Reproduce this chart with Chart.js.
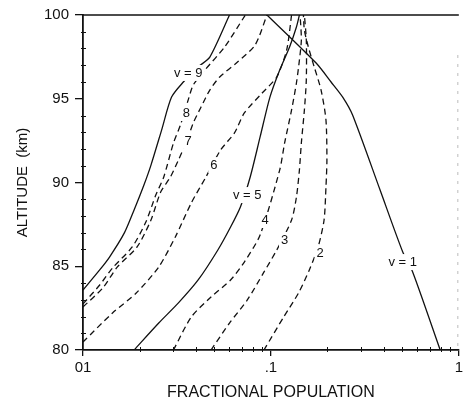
<!DOCTYPE html>
<html>
<head>
<meta charset="utf-8">
<script src="https://cdn.jsdelivr.net/npm/chart.js@4.4.1/dist/chart.umd.min.js"></script>
<style>
  html, body { margin: 0; padding: 0; background: #fff; }
</style>
</head>
<body>
<canvas id="chart" width="466" height="405"></canvas>
<script>
// Fractional population of vibrational levels v=1..9 vs altitude

// altitude (km) / fractional population, one pair per level
const alt1 = [80, 84.66, 85.85, 89.55, 94.03, 95.1, 96.0, 97.13, 100];
const pop1 = [0.796, 0.568, 0.503, 0.381, 0.272, 0.241, 0.209, 0.174, 0.0953];

const alt2 = [80, 81.97, 83.4, 84.78, 86.15, 87.76, 89.73, 91.34, 93.73, 95.52, 96.9, 98.09, 99.1, 100];
const pop2 = [0.0918, 0.1169, 0.1402, 0.1601, 0.1783, 0.1918, 0.1963, 0.1986, 0.1963, 0.1849, 0.170, 0.1582, 0.1507, 0.1489];

const alt3 = [80, 81.61, 82.99, 84.66, 85.97, 87.76, 89.13, 90.75, 92.36, 94.33, 96.12, 98.51, 100];
const pop3 = [0.048, 0.0602, 0.0749, 0.0919, 0.1074, 0.1288, 0.1367, 0.1418, 0.1452, 0.1507, 0.1543, 0.1543, 0.1507];

const alt4 = [80, 81.97, 83.16, 84.18, 85.25, 86.87, 90.75, 92.36, 94.33, 95.94, 97.31, 98.51, 100];
const pop4 = [0.0303, 0.0377, 0.048, 0.061, 0.0722, 0.0876, 0.1114, 0.1183, 0.1288, 0.1367, 0.1418, 0.1452, 0.143];

const alt5 = [80, 81.61, 82.81, 84.18, 85.97, 87.34, 88.54, 90.33, 92.72, 95.1, 96.72, 98.09, 99.28, 100];
const pop5 = [0.0187, 0.0253, 0.0322, 0.041, 0.0522, 0.061, 0.0688, 0.0776, 0.0876, 0.0988, 0.1114, 0.1257, 0.1367, 0.1418];

const alt6 = [80.48, 82.21, 83.4, 84.96, 86.75, 88.78, 90.33, 91.94, 92.96, 94.15, 95.34, 96.3, 97.91, 100];
const pop6 = [0.01, 0.01436, 0.0192, 0.0253, 0.031, 0.0377, 0.0451, 0.054, 0.064, 0.0722, 0.0898, 0.1074, 0.1213, 0.1288];

const alt7 = [82.57, 83.7, 84.96, 86.15, 87.76, 89.43, 90.33, 91.34, 92.42, 93.55, 94.51, 95.52, 96.3, 97.19, 98.21, 100];
const pop7 = [0.01, 0.01274, 0.01524, 0.0194, 0.023, 0.0259, 0.0292, 0.0322, 0.0355, 0.0386, 0.0425, 0.0473, 0.0534, 0.0664, 0.0824, 0.0953];

const alt8 = [82.75, 83.88, 84.9, 86.15, 87.64, 89.25, 90.33, 92.36, 93.43, 94.93, 95.82, 96.72, 98.09, 100];
const pop8 = [0.01, 0.01227, 0.01436, 0.01827, 0.0216, 0.0244, 0.0269, 0.0303, 0.033, 0.0363, 0.0386, 0.0446, 0.0567, 0.0731];

const alt9 = [83.58, 84.78, 85.55, 86.99, 88.36, 89.85, 91.04, 93.13, 95.1, 96.0, 96.9, 97.49, 100];
const pop9 = [0.01, 0.01227, 0.01384, 0.0166, 0.0187, 0.0211, 0.023, 0.0262, 0.0296, 0.0342, 0.041, 0.0473, 0.0602];

const levelAlts = [alt1, alt2, alt3, alt4, alt5, alt6, alt7, alt8, alt9];
const levelPops = [pop1, pop2, pop3, pop4, pop5, pop6, pop7, pop8, pop9];
const dashedLevels = [false, true, true, true, false, true, true, true, false];

// curve labels
const labelText = ['v = 1', '2', '3', '4', 'v = 5', '6', '7', '8', 'v = 9'];
const labelPop = [0.503, 0.183, 0.1183, 0.0931, 0.0748, 0.0497, 0.0363, 0.0355, 0.0363];
const labelAlt = [85.25, 85.79, 86.57, 87.76, 89.25, 91.04, 92.48, 94.15, 96.54];

// axis ticks
const xTickValues = [0.01, 0.1, 1];
const xTickLabels = ['01', '.1', '1'];

const FONT = 'Liberation Sans, Arial, Helvetica, sans-serif';

const datasets = levelAlts.map(function(alts, i) {
    return {
        label: 'v=' + (i + 1),
        data: alts.map(function(a, j) { return { x: levelPops[i][j], y: a }; }),
        showLine: true,
        pointRadius: 0,
        borderColor: '#111',
        borderWidth: 1.3,
        borderDash: dashedLevels[i] ? [6, 4] : [],
        tension: 0.25
    };
});

// curve labels with a white patch behind, so the line is broken there
const curveLabels = {
    id: 'curveLabels',
    afterDatasetsDraw(chart) {
        const ctx = chart.ctx;
        const xs = chart.scales.x, ys = chart.scales.y;
        ctx.save();
        ctx.font = '13px ' + FONT;
        ctx.textAlign = 'center';
        ctx.textBaseline = 'middle';
        labelText.forEach(function(t, i) {
            const px = xs.getPixelForValue(labelPop[i]);
            const py = ys.getPixelForValue(labelAlt[i]);
            const w = ctx.measureText(t).width;
            ctx.fillStyle = '#fff';
            ctx.fillRect(px - w / 2 - 2, py - 8, w + 4, 16);
            ctx.fillStyle = '#111';
            ctx.fillText(t, px, py);
        });
        ctx.restore();
    }
};

// frame line on top, faint right edge and minor ticks
const frameTicks = {
    id: 'frameTicks',
    afterDraw(chart) {
        const ctx = chart.ctx;
        const a = chart.chartArea;
        const xs = chart.scales.x, ys = chart.scales.y;
        ctx.save();
        ctx.strokeStyle = '#111';
        ctx.lineWidth = 1.5;
        ctx.beginPath();
        ctx.moveTo(a.left, a.top);
        ctx.lineTo(a.right, a.top);
        ctx.stroke();

        ctx.strokeStyle = '#bbb';
        ctx.lineWidth = 1;
        ctx.setLineDash([3, 6]);
        ctx.beginPath();
        ctx.moveTo(a.right - 1, a.top + 40);
        ctx.lineTo(a.right - 1, a.bottom);
        ctx.stroke();
        ctx.setLineDash([]);

        ctx.strokeStyle = '#111';
        ctx.lineWidth = 1;
        ctx.beginPath();
        for (let km = 81; km < 100; km++) {
            if (km % 5 === 0) continue;
            const py = Math.round(ys.getPixelForValue(km)) + 0.5;
            ctx.moveTo(a.left - 2, py);
            ctx.lineTo(a.left + 3, py);
        }
        [0.01, 0.1].forEach(function(dec) {
            for (let m = 2; m <= 9; m++) {
                const px = Math.round(xs.getPixelForValue(dec * m)) + 0.5;
                ctx.moveTo(px, a.bottom + 2);
                ctx.lineTo(px, a.bottom - 3);
            }
        });
        ctx.stroke();
        ctx.restore();
    }
};

const ctx = document.getElementById('chart').getContext('2d');
new Chart(ctx, {
    type: 'scatter',
    data: { datasets: datasets },
    options: {
        responsive: false,
        animation: false,
        layout: { padding: { top: 15, right: 1, left: 0, bottom: 0 } },
        plugins: {
            legend: { display: false },
            tooltip: { enabled: false }
        },
        scales: {
            x: {
                type: 'logarithmic',
                min: 0.01,
                max: 1,
                afterBuildTicks: function(scale) {
                    scale.ticks = xTickValues.map(function(v) { return { value: v }; });
                },
                afterFit: function(scale) { scale.height = 55; },
                ticks: {
                    color: '#111',
                    font: { family: FONT, size: 15 },
                    padding: 3,
                    maxRotation: 0,
                    autoSkip: false,
                    callback: function(value) {
                        const k = xTickValues.indexOf(value);
                        return k >= 0 ? xTickLabels[k] : '';
                    }
                },
                grid: { drawOnChartArea: false, drawTicks: true, tickLength: 6, color: '#111', lineWidth: 1.3 },
                border: { display: true, color: '#111', width: 1.8 },
                title: {
                    display: true,
                    text: 'FRACTIONAL POPULATION',
                    color: '#111',
                    font: { family: FONT, size: 16 },
                    padding: 3
                }
            },
            y: {
                min: 80,
                max: 100,
                afterFit: function(scale) { scale.width = 83; },
                ticks: {
                    stepSize: 5,
                    color: '#111',
                    font: { family: FONT, size: 15 },
                    padding: 6
                },
                grid: { drawOnChartArea: false, drawTicks: true, tickLength: 8, color: '#111', lineWidth: 1.3 },
                border: { display: true, color: '#111', width: 1.8 },
                title: {
                    display: true,
                    text: 'ALTITUDE  (km)',
                    color: '#111',
                    font: { family: FONT, size: 15 },
                    padding: 14
                }
            }
        }
    },
    plugins: [curveLabels, frameTicks]
});
</script>
</body>
</html>
